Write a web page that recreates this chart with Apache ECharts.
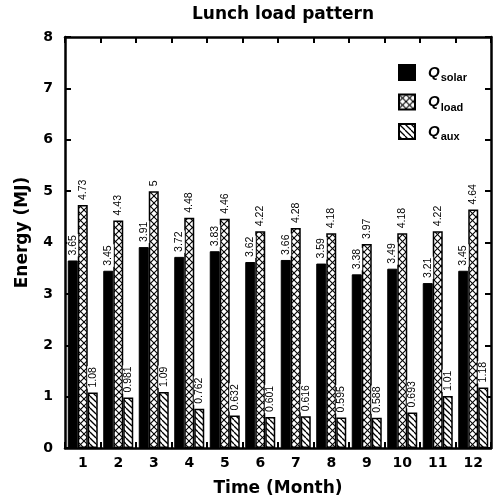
<!DOCTYPE html>
<html><head><meta charset="utf-8">
<script src="https://cdn.jsdelivr.net/npm/echarts@6/dist/echarts.min.js"></script>
<style>html,body{margin:0;padding:0;background:#fff}#c{width:495px;height:502px}</style>
</head><body><div id="c"></div>
<script>
const months = ['1','2','3','4','5','6','7','8','9','10','11','12'];
const qSolar = [3.65, 3.45, 3.91, 3.72, 3.83, 3.62, 3.66, 3.59, 3.38, 3.49, 3.21, 3.45];
const qLoad  = [4.73, 4.43, 5, 4.48, 4.46, 4.22, 4.28, 4.18, 3.97, 4.18, 4.22, 4.64];
const qAux   = [1.08, 0.981, 1.09, 0.762, 0.632, 0.601, 0.616, 0.595, 0.588, 0.693, 1.01, 1.18];
const seriesNames = ['solar', 'load', 'aux'];

function makePattern(type) {
  const s = type === 'cross' ? 7 : 6;
  const c = document.createElement('canvas');
  c.width = s; c.height = s;
  const g = c.getContext('2d');
  g.fillStyle = '#fff'; g.fillRect(0, 0, s, s);
  g.strokeStyle = '#000'; g.lineWidth = type === 'cross' ? 1.1 : 1.3;
  for (const o of [-s, 0, s]) {
    g.beginPath(); g.moveTo(o, 0); g.lineTo(o + s, s); g.stroke();
    if (type === 'cross') {
      g.beginPath(); g.moveTo(o + s, 0); g.lineTo(o, s); g.stroke();
    }
  }
  return { image: c, repeat: 'repeat' };
}

const FONT = '"Liberation Sans", Arial, sans-serif';
const BFONT = '"DejaVu Sans", sans-serif';
const labelCfg = {
  show: true, position: 'top', rotate: 90, align: 'left', verticalAlign: 'middle',
  distance: 4, fontSize: 10.5, fontFamily: FONT, color: '#000',
  backgroundColor: '#fff', padding: [0, 1],
  formatter: p => String(p.value)
};

const chart = echarts.init(document.getElementById('c'), null, { renderer: 'canvas' });
const axisLine = { show: true, onZero: false, lineStyle: { color: '#000', width: 2.5 } };
const tick = { show: true, inside: true, length: 6, lineStyle: { color: '#000', width: 2 } };

chart.setOption({
  animation: false,
  backgroundColor: '#fff',
  title: {
    text: 'Lunch load pattern', left: 278, top: 1, textAlign: 'center',
    textStyle: { fontFamily: BFONT, fontWeight: 'bold', fontSize: 17, color: '#000' }
  },
  legend: {
    orient: 'vertical', left: 393, top: 59, itemWidth: 16, itemHeight: 15, itemGap: 10,
    icon: 'rect', selectedMode: false,
    formatter: n => '{q|Q}{s|' + n + '}',
    textStyle: {
      rich: {
        q: { fontFamily: FONT, fontWeight: 'bold', fontStyle: 'italic', fontSize: 15, color: '#000', padding: [0, 0, 0, 8] },
        s: { fontFamily: FONT, fontWeight: 'bold', fontSize: 11, color: '#000', padding: [11, 0, 0, 1] }
      }
    }
  },
  grid: { left: 65, right: 4, top: 37, bottom: 50, containLabel: false },
  xAxis: [{
    type: 'category', data: months, position: 'bottom',
    axisLine, axisTick: Object.assign({ interval: 0 }, tick),
    axisLabel: { fontFamily: BFONT, fontWeight: 'bold', fontSize: 14, color: '#000', margin: 8, interval: 0 },
    name: 'Time (Month)', nameLocation: 'middle', nameGap: 32,
    nameTextStyle: { fontFamily: BFONT, fontWeight: 'bold', fontSize: 17, color: '#000' }
  }, {
    type: 'category', data: months, position: 'top',
    axisLine, axisTick: Object.assign({ interval: 0 }, tick), axisLabel: { show: false }
  }],
  yAxis: [{
    type: 'value', min: 0, max: 8, interval: 1, position: 'left',
    axisLine, axisTick: tick, splitLine: { show: false },
    axisLabel: { fontFamily: BFONT, fontWeight: 'bold', fontSize: 14, color: '#000', margin: 12 },
    name: 'Energy (MJ)', nameLocation: 'middle', nameGap: 34,
    nameTextStyle: { fontFamily: BFONT, fontWeight: 'bold', fontSize: 17, color: '#000', padding: [0, 0, 0, 20] }
  }, {
    type: 'value', min: 0, max: 8, interval: 1, position: 'right',
    axisLine, axisTick: tick, splitLine: { show: false }, axisLabel: { show: false }
  }],
  series: [
    { name: seriesNames[0], type: 'bar', data: qSolar, barWidth: 10, barGap: '0%',
      itemStyle: { color: '#000', borderColor: '#000', borderWidth: 1 }, label: labelCfg },
    { name: seriesNames[1], type: 'bar', data: qLoad, barWidth: 10, barGap: '0%',
      itemStyle: { color: makePattern('cross'), borderColor: '#000', borderWidth: 1.5 }, label: labelCfg },
    { name: seriesNames[2], type: 'bar', data: qAux, barWidth: 10, barGap: '0%',
      itemStyle: { color: makePattern('diag'), borderColor: '#000', borderWidth: 1.5 }, label: labelCfg }
  ]
});
</script></body></html>
